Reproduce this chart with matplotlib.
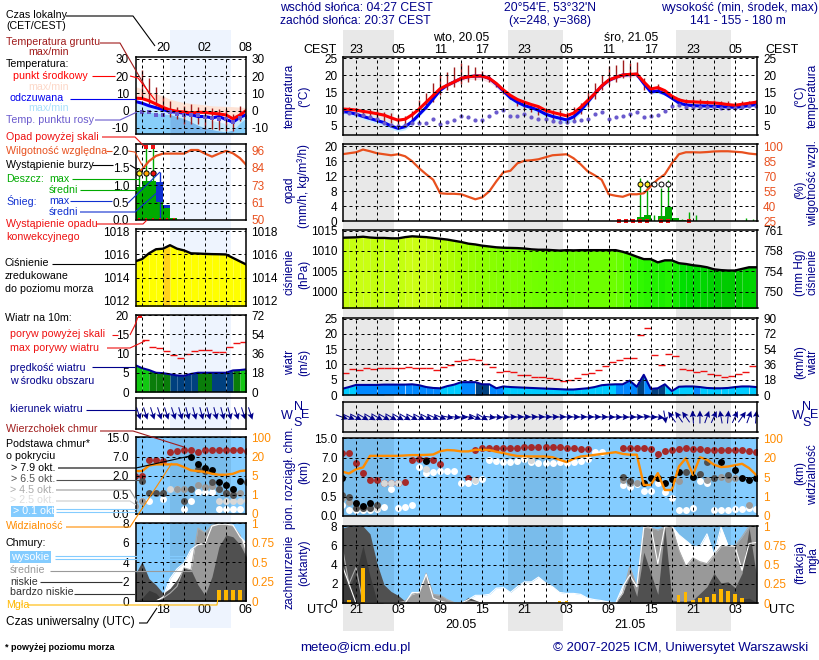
import numpy as np
import matplotlib
matplotlib.use("Agg")
import matplotlib.pyplot as plt
from matplotlib.patches import Rectangle

plt.rcParams['font.family'] = ['Liberation Sans', 'DejaVu Sans']
plt.rcParams['font.size'] = 8.6
plt.rcParams['xtick.major.size'] = 0
plt.rcParams['ytick.major.size'] = 0

W, H = 820, 660
NAVY = '#00008b'; ORANGE = '#ff8c00'; RHC = '#e8501e'; SKY = '#84ccff'; BROWN = '#a01c1c'
FOG = '#ffb800'; C_WHITE = '#ffffff'; C_LIGHT = '#d8d8d8'; C_GRAY = '#999999'; C_DARK = '#505050'; C_BLACK = '#000000'
TICK = 8.5; LEG = 7.7; AXL = 8.6; HEAD = 8.7

# ---------- main forecast, hours UTC from 20.05 00:00 ----------
t = np.arange(-5, 55)
temp_mid = [10.0,9.9,9.7,9.3,9.0, 8.6,8.2,7.4,6.7, 7.0,8.3,10.0,12.0,14.0,16.0, 17.0,18.0,19.0,19.5,19.7,19.7,19.0,
            17.5,15.6,14.0,12.8,12.0,11.3,10.7,9.6, 9.0,8.5,8.0,8.8,10.5,12.5,14.5,16.8,18.5,
            19.3,20.0,20.2,20.3,18.0,15.9,16.3,15.4,13.8,12.7,12.2, 12.1,12.0,11.9,11.8,11.6,11.3,11.1,11.4,11.7,12.0]
temp_low = [9.8,9.7,9.5,9.1,8.8, 8.4,8.0,7.2,6.5, 6.8,8.0,9.7,11.7,13.7,15.6, 16.5,17.4,18.3,18.7,18.7,18.6,17.8,
            16.3,14.5,13.0,12.0,11.4,10.8,10.3,9.4, 8.8,8.3,7.8,8.5,10.2,12.2,14.2,16.4,18.0,
            18.7,19.3,19.4,19.5,16.8,14.6,15.0,14.3,13.0,12.0,11.8, 11.8,11.7,11.6,11.5,11.3,11.1,10.9,11.2,11.5,11.8]
temp_app = [9.3,9.0,8.5,7.8,7.2, 6.6,6.0,5.0,4.3, 4.8,6.3,8.4,10.5,13.0,15.5, 17.0,18.0,19.0,19.5,19.7,19.7,19.0,
            17.3,15.3,13.3,12.0,11.0,10.4,9.6,8.5, 7.8,7.3,6.8,7.7,9.5,12.0,14.5,16.7,18.4,
            19.3,20.0,20.1,20.2,17.5,15.0,15.3,14.5,13.2,11.8,11.2, 11.0,10.9,10.9,10.8,10.7,10.6,10.5,10.7,11.0,11.3]
temp_app_low = [8.6,8.3,7.7,7.0,6.4, 5.7,5.0,4.0,3.4, 3.9,5.5,7.8,10.0,12.6,15.2, 16.7,17.7,18.6,19.0,19.0,18.8,18.0,
                16.3,14.5,12.5,11.0,10.0,9.3,8.5,7.5, 6.8,6.2,5.6,6.6,8.7,11.3,14.0,16.4,18.0,
                19.0,19.6,19.6,19.8,17.0,14.4,14.6,14.0,12.8,11.3,10.8, 10.6,10.5,10.4,10.3,10.2,10.1,10.0,10.2,10.6,11.0]
dew = [9.0,8.7,8.5,8.2,7.5, 7.0,5.8,5.2,5.0, 5.2,5.8,5.8,5.9,7.0,5.5, 6.3,6.8,8.0,7.7,6.8,6.8,7.8,
       9.0,9.6,7.8,8.0,8.4,7.5,7.2,7.0, 6.5,6.3,6.1,6.5,6.7,7.2,8.4,9.0,7.0,
       7.7,8.0,8.4,9.0,7.5,8.0,8.2,9.4,11.0,11.3,10.6, 10.6,10.5,10.5,10.5,10.4,10.4,10.4,10.6,10.8,10.9]
ground_t = np.arange(-4, 55)
ground_max = [10.7,10.3,10.0,9.9, 9.6,9.2,8.8,8.2, 7.8,9.5,12.6,14.6,17.7,20.0, 21.0,22.4,23.6,23.0,22.5,21.2,20.0,
              17.0,14.6,13.5,12.5,11.8,11.0,10.6,10.0, 9.7,9.7,9.2,10.5,11.7,15.1,17.7,20.0,22.7,
              23.0,24.3,23.5,23.8,19.0,16.5,17.5,15.1,14.0,13.3,13.0, 12.9,12.8,12.6,12.6,12.4,12.3,12.1,12.3,12.3,12.6]
ground_min = [9.0,8.6,8.0,7.5, 7.0,6.4,5.8,5.0, 5.3,6.7,8.5,10.0,12.0,14.0, 15.5,16.5,17.5,18.0,18.5,18.7,18.0,
              16.5,14.3,12.8,11.0,9.8,9.0,8.3,7.8, 6.5,5.8,5.5,6.5,8.5,10.5,13.0,15.5,17.0,
              18.0,19.0,19.2,19.3,15.5,14.5,15.0,14.0,12.8,11.5,11.0, 10.9,10.8,10.7,10.6,10.5,10.4,10.3,10.4,10.8,11.1]

humidity = [92,93,94,96.7,95, 93,92,91,92, 90,85,78,72,66.5,53, 52.5,52.5,52,49.5,47,49,55,
            65,74,75.5,83,85.5,86,87,89, 91,91.5,92,88,82,75,71,66.5,52,
            50.5,49.5,52,52,53,60,67,72,83,92,94, 94,93.8,94.2,94.8,95,95,94.5,94,92.7,92]
rain_hours = [37,38,39,40,41,42,43]
rain_mean = [1.25,1.7,0.1,1.4,3.9,0.8,0.3]
rain_max_hours = [37,38,39,40,41,42,43,44,45,52,53]
rain_max = [11.5,11.0,1.7,8.8,11.0,0.8,0.6,2.4,1.7,1.0,0.5]
conv_hours = [34,35,36,37,38,40,41,44]
storm_yellow = [37,38]
storm_open = [39,40,41]

pressure = [1013.25,1013.3,1013.35,1013.5,1013.3, 1013.2,1013.2,1013.1,1013.1, 1013.4,1013.6,1013.5,1013.4,1013.2,1013.0,
            1012.8,1012.5,1012.2,1011.8,1011.6,1011.3,1011.1, 1010.9,1010.8,1010.75,1010.7,1010.6,1010.4,1010.3,1010.3,
            1010.2,1010.1,1010.2,1010.15,1010.2,1010.2,1010.2,1010.2,1010.2, 1010.2,1009.8,1009.25,1008.6,1008.0,1008.0,
            1007.2,1007.7,1007.7,1007.0,1006.8, 1006.5,1006.3,1006.0,1005.5,1005.3,1005.2,1005.2,1005.6,1006.0,1006.0]

wind = [2.0,2.6,3.3,3.3,3.3, 3.3,3.4,3.4,3.4, 3.4,3.5,3.2,2.6,2.3,2.2, 2.9,3.4,4.2,4.2,4.2,3.5,3.5,
        2.2,2.8,2.6,2.5,2.4,2.3,2.2,2.1, 2.0,1.9,1.8,1.8,2.0,2.2,2.6,3.2,3.4,
        3.5,3.5,4.7,2.7,6.6,2.0,2.2,3.5,1.3,2.7,2.8, 2.8,2.6,2.3,2.2,2.2,2.3,2.6,2.8,2.8,2.6]
wind_class = [0,0, 1,1,1,1,1,1,1,1,1,1,1,1, 0,0,0, 1,1, 2,2, 1,1] + [0]*16 + [1,1,1, 2, 1, 2,2, 0,0,0,0, 1] + [0]*10
gust = [7.1,8.4,8.1,8.8,8.4,8.8,8.8,8.8,8.8,9.3,9.0,8.8,8.8,8.1,9.1,9.9,11.2,11.4,11.7,11.4,10.1,9.1,7.5,7.9,7.5,
        6.5,6.5,5.8,5.8,5.5,5.3,4.6,4.8,5.5,6.8,7.1,8.1,9.4,10.7,11.4,12.0,12.0,19.7,21.9,13.0,9.8,13.4,12.7,8.4,8.1,
        7.6,7.9,6.8,6.5,5.8,6.2,6.8,7.6,9.4]
heading = [-20,-25,-28,-30,-30,-30,-30,-30,-30,-30,-28,-28,-28,-25,-22,
           -12,-8,-5,-15,-25,-30,
           -8,-5,0,2,3,3,3,3,3,3,3,3,2,2,2,2,0,-2,-2,-2,0,3,8,-2,-8,
           -80,125,125,125,95,90,70,65,100,85,65,55,70,85]

visibility = [2.29,2.19,2.41,2.5,3.1, 3.1,3.1,3.1,3.1, 3.12,3.14,3.14,3.15,3.17,3.34, 3.4,3.38,3.33,3.33,3.41,3.41,3.4,
              3.31,3.24,3.16,3.09,3.08,3.07,3.07,3.07, 3.03,2.9,2.78,2.95,3.07,3.1,3.15,3.2,3.24,
              3.29,3.2,3.16,3.16,1.6,1.6,2.21,1.34,1.34,2.55,2.98, 2.12,3.03,2.9,2.64,2.52,2.55,2.62,2.69,2.47,2.12]
top_t = list(range(-5,10)) + list(range(13,31)) + list(range(35,55))
top_lv = [3.24,3.26,2.72,2.21,1.86,1.86,1.72,1.72,1.69,1.76,2.88,2.93,2.9,2.88,2.67,
          1.95,3.41,3.5,3.5,3.5,3.5,3.5,3.53,3.57,3.57,3.57,3.57,3.57,3.57,3.5,3.48,3.45,3.45,
          3.48,3.48,3.48,3.48,3.45,3.22,3.36,3.41,3.45,3.5,3.45,3.45,3.41,3.41,3.41,3.41,3.41,3.41,3.36,3.31]
white_t = list(range(-5,33)) + list(range(35,55))
white_lv = [.57,.31,.31,.31,.31,.34,.48,1.38,.43,.45,.57,2.5,2.21,2.26,2.31,2.31,2.34,1.72,1.72,1.81,1.9,2.9,2.84,2.79,2.79,
            2.84,2.93,2.79,2.74,2.74,2.74,2.79,2.74,2.79,2.84,2.93,3.28,3.28,
            1.6,1.52,1.64,1.31,1.31,1.72,1.26,.91,.31,.31,.43,1.78,1.69,.31,.31,.31,.34,.34,.4,.34]
light_t = [-3,-2,-1,0,1,2,3,7,14,22]
light_lv = [.4,.4,.4,.4,1.72,1.72,1.69,2.41,1.86,2.88]
gray_t = [-5,-4,35,36,37,43,47,49,50,51,53]
gray_lv = [.91,.74,1.86,1.69,1.69,1.81,1.86,2.0,1.9,1.98,.57]
dark_t = [-5,-4,-3,-2,-1,0,35,36,44,46,47,48,50]
dark_lv = [1.09,1.0,.4,.4,.4,.55,2.03,1.78,2.26,2.19,2.78,1.98,2.12]
black_t = [-5,-3,-2,-1,7,38,39,40,41,42,43,45,49,51,52,53,54]
black_lv = [1.95,.66,.52,.66,2.84,1.69,1.98,1.98,1.69,1.9,2.29,2.0,2.78,2.38,1.98,1.86,1.98]

cl_high = [4,2,0,0,0, 0,0,0,0, 0,1.1,1.1,3,.5,.2, 0,0,0,.35,.8,.8,.9,
           1.55,1.6,1.1,1.7,2.2,2.2,2.7,2.1, 1.7,1.1,1.0,1.0,.9,.5,.35,.25,.1,
           0,1.7,2.9,1.7,7.9,8,4.1,8,8,7.1,6.5, 5.9,5.9,7.2,5,7.9,6,5.9,3.4,6.2,6.3]
cl_mid = [6,2,3.7,0,0, 0,0,0,0, .2,.9,1.1,3.1,.9,.8, .35,.05,0,.2,.1,0,0,
          0,0,0,0,0,0,0,0, 0,0,0,0,0,0,0,0,0,
          0,1,3.8,1.7,7.9,7.8,7.6,7.9,8,5.5,3.8, 4.7,4.3,4.1,5,5.9,5.9,6,6.9,8,8]
cl_low = [7.8,8,8,8,7.2, 4.1,1.9,1.2,.8, .2,.1,.1,.1,.1,0, 0,0,.05,.6,.3,0,0,
          0,0,0,0,0,0,0,0, 0,0,0,0,0,0,0,0,0,
          0,1,2.8,.7,5.3,3.1,.9,7.9,.3,.2,.2, .3,1,1.7,3.1,2.1,2.2,1.6,3.1,7.8,3.1]
cl_vlow = [3.4,1.5,3.1,6,2.8, .2,0,0,0, 0,0,0,0,0,0, 0,0,0,0,0,0,0,
           0,0,0,0,0,0,0,0, 0,0,0,0,0,0,0,0,0,
           0,0,0,0,0,0,0,0,0,0,0, 0,0,0,0,0,0,0,.4,.5,.1]
fog_t = [-4,-2,26,27,43,44,45,46,47,48,49,50,51,52]
fog = [.04,.45,.02,.02,.11,.14,.04,.06,.08,.12,.18,.16,.12,.06]

# ---------- previous-run panel (left), hours UTC from 19.05 00:00 ----------
h = np.arange(14, 31)
l_temp_mid = [7.2,7,5.7,3.8,1.9,.4,-.4,-.8,-1.3,-1,-1,-1.5,-1.9,-2.5,-4.7,-2.5,.4]
l_temp_app = [5.3,4.3,2.8,1.7,.6,-.6,-.9,-1.5,-2.3,-3.4,-3.4,-4.2,-3.4,-5.1,-6.6,-3.8,-2.2]
l_temp_max = [14,12.5,11,9.7,8.5,6.6,5.5,4.7,4.2,3.8,3.3,2.8,2.6,2.5,2.3,2,1.9]
l_app_hi = [4.5,3.5,2.5,1.5,1.3,.5,-.5,-1.9,-2.8,-3.8,-4.7,-5.7,-6.6,-7.5,-6.5,-4,-1.9]
l_app_lo = [0,-.4,-.9,-1.4,-1.9,-2.3,-3.5,-4.7,-6.5,-8.5,-10,-11,-11.8,-12.3,-11.3,-7,-3.8]
l_dew = [-1,-.9,-.9,-2.3,-2.3,-.9,-1.9,-2.3,-2.8,-2.5,-3.8,-4.3,-5.1,-5.1,-6.5,-4,-3.5]
l_ground_h = np.arange(15, 30)
l_ground_max = [23.6,18.9,13.8,8.5,5.7,1.9,2.8,3.8,1.9,1.9,1.3,.9,.9,-1.9,2.8]
l_ground_min = [6.6,3.8,2.8,1,-3.8,-4.7,-7.5,-7.5,-8,-10.4,-10.4,-11.3,-12,-12,-5.7]
l_humidity = [80,83.5,89,92.5,94,94,94,94,96.4,96.4,94,92,94,95.8,94.2,91,86]
l_rain_h = [14,15,16,17,18,19]
l_rain = [.94,1.12,1.12,.53,.34,.07]
l_snow_h = [17,18]
l_snow = [1.1,.43]
l_rain_max_h = [14.5,15.5,16.5]
l_rain_max = [1.5,2.1,2.1]
l_snow_max_h = [17.5]
l_snow_max = [1.39]
l_pressure = [1015.4,1015.6,1016.1,1016.45,1016.5,1016.8,1016.5,1016.35,1016.1,1016.08,1016.05,1016.03,1016.02,1016.0,1015.7,1015.4,1015.1]
l_wind = [7,6.2,5.7,5,4.9,4.6,4.3,4.2,4.7,5,5,5,5,5,5.6,5.7,5.9]
l_wind_class = [4,4,3,3,3,2,2,2,2,3,3,2,2,2,3,4]
l_gust_h = np.arange(15, 30)
l_gust = [13.5,11.7,11.4,10.6,9.6,8.8,9.8,10.7,10.9,10.9,10.5,10.5,11.6,12.8,13]
l_heading = [-72,-72,-72,-72,-72,-72,-74,-75,-75,-75,-75,-75,-75,-75,-72,-72,-72]
l_vis = [2.24,2.24,2.53,2.59,2.59,2.59,2.59,2.45,2.28,2.24,2.2,2.1,2.05,2.05,2.1,2.24,2.28]
l_top = [2,2,2.84,2.84,2.79,3.22,3.31,3.34,3.34,3.22,3.34,3.34,3.34,3.34,3.34,3.34,3.31]
l_black_h = [22,23,24,25,26,27,28,29]
l_black = [3,2.59,2.4,2.28,1.67,1.5,1.28,1.71]
l_dark_h = [15,16,17,18,21,22,23,24,25,26,27,28,30]
l_dark = [1.71,1.12,1.12,1.12,.69,1.28,2.36,2.24,1.67,1.28,1.12,.98,1.67]
l_gray_h = [14,15,18,20,21,23,24,25,26,27,28,29]
l_gray = [.41,.69,1.12,1.28,1.28,1.5,1.41,1.45,1.28,1.12,1.1,1.1]
l_light_h = [14,19,20,26,27,28,29,30]
l_light = [.41,1.28,1.28,.69,.69,.69,.69,.72]
l_white_h = [15,16,18,21,22,23,24,25,26,27,28,29]
l_white = [.69,.69,.76,.24,.69,1.16,1.16,1.16,.24,.24,.24,.24]
l_high = [0,0,0,0,.4,2.3,3.3,3.9,5.3,5.8,5.9,7.7,7.9,7.9,7.8,6.6,5.9]
l_mid = [0,0,0,0,.3,.8,1.5,3.4,3.2,7.5,7,7.8,7.9,7.9,7.7,6.8,4.4]
l_low = [2.7,4.05,2.3,1.65,.8,1.3,2.2,3.4,3.2,1.65,.6,2.5,5.6,6.8,6.6,5.8,4.4]
l_vlow = [0,.3,1.1,.8,0,0,0,0,0,0,0,0,0,0,0,0,0]
l_fog_h = [26,27,28,29]
l_fog = [.14,.14,.14,.14]

fig = plt.figure(figsize=(W/100, H/100), dpi=100, facecolor='white')

def box(l, top, r, bot, **kw):
    return fig.add_axes([l/W, 1-bot/H, (r-l)/W, (bot-top)/H], **kw)

RX = (-4.85, 54.2)
LX = (14.14, 29.79)
NIGHT_R = [(-5, 2.45), (18.62, 26.45), (42.62, 50.45)]
NIGHT_L = [(19.0, 27.67)]

bgr = box(343, 30, 757.5, 631, zorder=-5); bgr.set_xlim(*RX); bgr.axis('off')
for a, b in NIGHT_R:
    bgr.axvspan(a, b, color='#e8e8e8', lw=0)
bgl = box(136, 30, 245.5, 628, zorder=-5); bgl.set_xlim(*LX); bgl.axis('off')
for a, b in NIGHT_L:
    bgl.axvspan(a, b, color='#eef4fe', lw=0)

def panel(b, xlim, ylim, yt, ytl, yt2, ytl2, col2='black', vt=None, side='R', ygrid=None):
    ax = box(*b, facecolor='none', zorder=2)
    ax.set_xlim(*xlim); ax.set_ylim(*ylim)
    ax.set_yticks(yt); ax.set_yticklabels(ytl)
    ax.set_xticks([])
    ax.tick_params(axis='y', pad=4 if side == 'R' else 5, labelsize=TICK)
    for s in ax.spines.values():
        s.set_linewidth(1.1); s.set_zorder(20)
    for x in vt:
        ax.axvline(x, color='k', lw=0.72, ls=(0, (3, 3)), zorder=10)
    for y in (yt if ygrid is None else ygrid):
        ax.axhline(y, color='k', lw=0.72, ls=(0, (3, 3)), zorder=10)
    tw = ax.twinx()
    tw.set_ylim(*ylim)
    tw.set_yticks(yt2); tw.set_yticklabels(ytl2, color=col2)
    tw.tick_params(axis='y', pad=4, labelsize=TICK)
    tw.patch.set_visible(False)
    for s in tw.spines.values():
        s.set_visible(False)
    return ax

VR = np.arange(-3, 54, 3)
VL = np.arange(15, 30, 3)

def night(ax, spans, c=(0, 0, 0, .08)):
    for a, b in spans:
        ax.axvspan(a, b, color=c, lw=0, zorder=4)

def rgb_interp(v, xs, cols):
    arr = np.array([matplotlib.colors.to_rgb(c) for c in cols])
    return tuple(np.interp(v, xs, arr[:, i]) for i in range(3))

# ---------- temperature ----------
ax = panel((343, 57, 757.5, 135), RX, (2.35, 25.3), [5,10,15,20,25], ['5','10','15','20','25'],
           [5,10,15,20,25], ['5','10','15','20','25'], vt=VR)
ax.fill_between(t, temp_app_low, temp_app, color='#c9ecff', lw=0, zorder=1)
ax.fill_between(t, temp_low, temp_mid, color='#fbdfe6', lw=0, zorder=1)
ax.vlines(ground_t, ground_min, ground_max, color=BROWN, lw=1, zorder=3)
ax.plot(t, temp_app, color='#0000ee', lw=2.2, zorder=5)
ax.plot(t, temp_mid, color='#ff0000', lw=2.2, zorder=6)
ax.plot(t, dew, ls='none', marker='o', ms=3, color='#6a5acd', mew=0, zorder=7)
ax.set_xticks(np.arange(-3, 54, 6)); ax.xaxis.tick_top()
ax.set_xticklabels(['23','05','11','17','23','05','11','17','23','05'])
ax.tick_params(axis='x', pad=1, labelsize=9)

axl = panel((136, 57, 245.5, 134), LX, (-13.5, 31), [-10,0,10,20,30], ['-10','0','10','20','30'],
            [-10,0,10,20,30], ['-10','0','10','20','30'], vt=VL, side='L')
axl.fill_between(h, l_temp_mid, l_temp_max, color='#fde3d6', lw=0, zorder=1)
axl.fill_between(h, l_app_lo, l_app_hi, color='#c5e9fc', lw=0, zorder=1)
axl.fill_between(h, -13.5, l_app_lo, color='#87cefa', lw=0, zorder=1.1)
band = (h >= 19) & (h <= 28)
axl.fill_between(h[band], -13.5, np.array(l_app_lo)[band], color='#79b6ea', lw=0, zorder=1.2)
axl.vlines(l_ground_h, l_ground_min, l_ground_max, color=BROWN, lw=1, zorder=5)
axl.plot(h, l_temp_app, color='#0000ee', lw=2.2, zorder=6)
axl.plot(h, l_temp_mid, color='#ff0000', lw=2.2, zorder=7)
axl.plot(h, l_dew, ls='none', marker='s', ms=3, color='#6a5acd', mew=0, zorder=8)
axl.set_xticks([18, 24, 29.79]); axl.xaxis.tick_top()
axl.set_xticklabels(['20', '02', '08'])
axl.tick_params(axis='x', pad=2, labelsize=9)

# ---------- precipitation / humidity ----------
ax = panel((343, 144, 757.5, 221.3), RX, (0, 20.6), [0,4,8,12,16,20], ['0','4','8','12','16','20'],
           np.linspace(0, 20, 6), ['25','40','55','70','85','100'], col2=RHC, vt=VR)
ax.bar(np.array(rain_hours)+.5, rain_mean, width=1, color='#00aa00', lw=0, zorder=3)
ax.vlines(np.array(rain_max_hours)+.5, 0, rain_max, color='#00aa00', lw=1, zorder=3)
ax.plot(t, (np.array(humidity)-25)/75*20, color=RHC, lw=1.6, zorder=5)
ax.plot(np.array(conv_hours)+.5, np.full(len(conv_hours), 0.1), ls='none', marker='s', ms=3.2, color='#ee1111', mew=0, zorder=12, clip_on=False)
ax.plot(np.array(storm_yellow)+.5, np.full(2, 10), ls='none', marker='o', ms=3.6, mfc='#ffee22', mec='k', mew=.7, zorder=12)
ax.plot(np.array(storm_open)+.5, np.full(3, 10), ls='none', marker='o', ms=3.6, mfc='white', mec='k', mew=.7, zorder=12)

axl = panel((136, 144, 245.5, 220), LX, (0, 2.19), [0,.5,1,1.5,2], ['0.0','0.5','1.0','1.5','2.0'],
            [0,.5,1,1.5,2], ['50','61','73','84','96'], col2=RHC, vt=VL, side='L')
axl.bar(np.array(l_snow_h)+.5, l_snow, width=1, color='#1030d0', lw=0, zorder=2)
axl.bar(np.array(l_rain_h)+.5, l_rain, width=1, color='#00aa00', lw=0, zorder=3)
axl.vlines(l_rain_max_h, 0, l_rain_max, color='#00aa00', lw=1, zorder=3)
axl.vlines(l_snow_max_h, 0, l_snow_max, color='#1030d0', lw=1, zorder=3)
axl.plot(h, (np.array(l_humidity)-50)/46*2, color=RHC, lw=1.6, zorder=5)
axl.plot(l_rain_max_h[1:], [2.1, 2.1], ls='none', marker='s', ms=3.2, color='#ee1111', mew=0, zorder=12)
for xx, cc in zip(l_rain_max_h, ['#ffee22', '#ffa500', '#ee1111']):
    axl.plot([xx], [1.35], ls='none', marker='o', ms=3.8, mfc=cc, mec='k', mew=.7, zorder=12)
axl.plot(np.arange(14.5, 20.5), np.full(6, 0.03), ls='none', marker='s', ms=1.6, color='#ee1111', mew=0, zorder=12)

# ---------- pressure ----------
PV = [1005, 1007, 1007.5, 1009, 1010, 1011, 1012.5, 1013.5]
PC = ['#00c800', '#00e000', '#20f000', '#40ff00', '#66ff00', '#88ff00', '#aaff00', '#ccff14']
ax = panel((343, 230, 757.5, 308), RX, (996.0, 1015.15), [1000,1005,1010,1015], ['1000','1005','1010','1015'],
           [1000,1005,1010,1015], ['750','754','758','761'], vt=VR)
p = np.array(pressure)
for i in range(len(t)-1):
    mean_p = (p[i]+p[i+1])/2
    ax.fill_between(t[i:i+2], 990, p[i:i+2], color=rgb_interp(mean_p, PV, PC), lw=0, zorder=1)
ax.plot(t, p, color='k', lw=1.7, zorder=6)

axl = panel((136, 229, 245.5, 306), LX, (1011.55, 1018.2), [1012,1014,1016,1018], ['1012','1014','1016','1018'],
            [1012,1014,1016,1018], ['1012','1014','1016','1018'], vt=VL, side='L')
lp = np.array(l_pressure)
for i in range(len(h)-1):
    axl.fill_between(h[i:i+2], 1000, lp[i:i+2], color='#ffd21a' if i == 4 else '#ffff00', lw=0, zorder=1)
axl.plot(h, lp, color='k', lw=1.7, zorder=6)

# ---------- wind ----------
WC = ['#00ccff', '#0088ff', '#00407f', '#0a7d0a', '#12c812']
ax = panel((343, 318, 757.5, 395), RX, (0, 25.2), [0,5,10,15,20,25], ['0','5','10','15','20','25'],
           np.linspace(0, 25, 6), ['0','18','36','54','72','90'], vt=VR)
for i in range(len(t)-1):
    ax.fill_between(t[i:i+2], 0, wind[i:i+2], color=WC[wind_class[i]], lw=0, zorder=1)
ax.plot(t, wind, color='#00009c', lw=1.5, zorder=6)
ax.hlines(gust, t[:-1], t[1:], color='#ee1111', lw=1, zorder=7)

axl = panel((136, 315, 245.5, 392), LX, (0, 20), [0,5,10,15,20], ['0','5','10','15','20'],
            np.linspace(0, 20, 5), ['0','18','36','54','72'], vt=VL, side='L')
for i in range(len(h)-1):
    axl.fill_between(h[i:i+2], 0, l_wind[i:i+2], color=WC[l_wind_class[i]], lw=0, zorder=1)
axl.plot(h, l_wind, color='#00009c', lw=1.5, zorder=6)
axl.hlines(l_gust, l_gust_h, l_gust_h+1, color='#ee1111', lw=1, zorder=7)
axl.plot([14.7], [19.7], ls='none', marker='s', ms=3, color='#ee1111', mew=0, zorder=12)

# ---------- wind direction ----------
ARROW_PX = 13
def wind_arrows(b, xlim, xs, heads, vt):
    a = box(*b, facecolor='none', zorder=2)
    a.set_xlim(*xlim); a.set_ylim(0, 1); a.set_xticks([]); a.set_yticks([])
    for s in a.spines.values():
        s.set_linewidth(1.1); s.set_zorder(20)
    for x in vt:
        a.axvline(x, color='k', lw=0.72, ls=(0, (3, 3)), zorder=3)
    rad = np.deg2rad(heads)
    a.quiver(xs, np.full(len(xs), .5), ARROW_PX*np.cos(rad), ARROW_PX*np.sin(rad), angles='uv', scale_units='dots', scale=1,
             units='dots', width=1.0, headwidth=6.5, headlength=6.5, headaxislength=5.5, pivot='mid', color='#00008b', zorder=6, clip_on=False)
    return a
wind_arrows((343, 402, 757.5, 432), RX, t, np.array(heading, float), VR)
wind_arrows((136, 398, 245.5, 429), LX, h+.5, np.array(l_heading, float), VL)

# ---------- cloud base / visibility ----------
LV = [0, 1, 2, 3, 4]
def base_panel(b, xlim, vt, spans, side):
    a = panel(b, xlim, (0, 4.02), LV, ['0.0','0.5','2.0','7.0','15.0'], LV, ['0','1','5','20','100'], col2=ORANGE, vt=vt, side=side)
    a.axhspan(0, 5, color=SKY, lw=0, zorder=0)
    night(a, spans)
    return a
def dots(a, xs, ys, c):
    a.plot(xs, ys, ls='none', marker='o', ms=5, color=c, mew=0, zorder=5)

ax = base_panel((343, 438, 757.5, 516), RX, VR, NIGHT_R, 'R')
dots(ax, top_t, top_lv, '#a52a2a')
dots(ax, white_t, white_lv, C_WHITE)
dots(ax, light_t, light_lv, C_LIGHT)
dots(ax, gray_t, gray_lv, C_GRAY)
dots(ax, dark_t, dark_lv, C_DARK)
dots(ax, black_t, black_lv, C_BLACK)
ax.plot(t, visibility, color=ORANGE, lw=1.7, zorder=8)

axl = base_panel((136, 437, 245.5, 514), LX, VL, NIGHT_L, 'L')
dots(axl, h, l_top, '#a52a2a')
dots(axl, l_white_h, l_white, C_WHITE)
dots(axl, l_light_h, l_light, C_LIGHT)
dots(axl, l_gray_h, l_gray, C_GRAY)
dots(axl, l_dark_h, l_dark, C_DARK)
dots(axl, l_black_h, l_black, C_BLACK)
axl.plot(h, l_vis, color=ORANGE, lw=1.7, zorder=8)

# ---------- cloud cover / fog ----------
def cover_panel(b, xlim, vt, spans, side, xs, high, mid, low, vlow, fx, fv):
    a = panel(b, xlim, (0, 8.02), [0,2,4,6,8], ['0','2','4','6','8'], [0,2,4,6,8], ['0','0.25','0.5','0.75','1'],
              col2=ORANGE, vt=vt, side=side)
    a.axhspan(0, 9, color=SKY, lw=0, zorder=0)
    night(a, spans)
    a.fill_between(xs, 0, high, color='white', lw=0, zorder=5)
    a.fill_between(xs, 0, mid, color='#999999', lw=0, zorder=5.1)
    a.fill_between(xs, 0, low, color='#505050', lw=0, zorder=5.2)
    a.fill_between(xs, 0, vlow, color='#3a3a3a', lw=0, zorder=5.3)
    a.plot(xs, high, color='white', lw=.8, zorder=5.5)
    a.plot(xs, mid, color='#aaaaaa', lw=.8, zorder=5.4)
    a.bar(fx, np.array(fv)*8, width=.45, color=FOG, lw=0, zorder=12)
    return a
ax = cover_panel((343, 526, 757.5, 603), RX, VR, NIGHT_R, 'R', t, cl_high, cl_mid, cl_low, cl_vlow, fog_t, fog)
ax.set_xticks(np.arange(-3, 54, 6))
ax.set_xticklabels(['21','03','09','15','21','03','09','15','21','03'])
ax.tick_params(axis='x', pad=1, labelsize=9)

axl = cover_panel((136, 523, 245.5, 601), LX, VL, NIGHT_L, 'L', h, l_high, l_mid, l_low, l_vlow, l_fog_h, l_fog)
axl.set_xticks([18, 24, 29.79]); axl.set_xticklabels(['18', '00', '06'])
axl.tick_params(axis='x', pad=2, labelsize=9)

# ---------- overlay in figure pixels: captions and leader lines ----------
ov = fig.add_axes([0, 0, 1, 1], facecolor='none', zorder=30)
ov.set_xlim(0, W); ov.set_ylim(H, 0); ov.axis('off')

def T(x, y, s, c='black', ha='left', rot=0, size=LEG, **kw):
    ov.text(x, y, s, color=c, ha=ha, va='center', rotation=rot, fontsize=size, **kw)
def L(pts, c='black', lw=.8):
    pts = np.array(pts)
    ov.plot(pts[:, 0], pts[:, 1], color=c, lw=lw, solid_capstyle='butt', clip_on=False, zorder=5)

T(280, 8, 'wschód słońca: 04:27 CEST', NAVY, size=HEAD); T(280, 21, 'zachód słońca: 20:37 CEST', NAVY, size=HEAD)
T(550, 8, "20°54'E, 53°32'N", NAVY, ha='center', size=HEAD); T(550, 21, '(x=248, y=368)', NAVY, ha='center', size=HEAD)
T(818, 8, 'wysokość (min, środek, max)', NAVY, ha='right', size=HEAD); T(738, 21, '141 - 155 - 180 m', NAVY, ha='center', size=HEAD)
T(461, 37, 'wto, 20.05', ha='center', size=HEAD); T(631, 37, 'śro, 21.05', ha='center', size=HEAD)
T(303, 50, 'CEST', size=9); T(765, 50, 'CEST', size=9)
T(307, 610, 'UTC', size=9); T(769, 610, 'UTC', size=9)
T(461, 625, '20.05', ha='center', size=9); T(630, 625, '21.05', ha='center', size=9)

LEFT1, LEFT2 = 290, 304
RIGHT1, RIGHT2 = 800, 813
for x, y, s in [(LEFT1, 96, 'temperatura'), (LEFT2, 96, '(°C)'), (LEFT1, 190, 'opad'), (LEFT2, 186, '(mm/h, kg/m³/h)'),
                (LEFT1, 272, 'ciśnienie'), (LEFT2, 274, '(hPa)'), (LEFT1, 362, 'wiatr'), (LEFT2, 362, '(m/s)'),
                (LEFT1, 478, 'pion. rozciągł. chm.'), (LEFT2, 472, '(km)'), (LEFT1, 572, 'zachmurzenie'), (LEFT2, 563, '(oktanty)'),
                (RIGHT1, 96, '(°C)'), (RIGHT2, 96, 'temperatura'), (RIGHT1, 190, '(%)'), (RIGHT2, 183, 'wilgotność wzgl.'),
                (RIGHT1, 273, '(mm Hg)'), (RIGHT2, 272, 'ciśnienie'), (RIGHT1, 362, '(km/h)'), (RIGHT2, 362, 'wiatr'),
                (RIGHT1, 473, '(km)'), (RIGHT2, 475, 'widzialność'), (RIGHT1, 563, '(frakcja)'), (RIGHT2, 560, 'mgła')]:
    T(x, y, s, NAVY, ha='center', rot=90, size=AXL)
for x, y, s in [(287, 416, 'W'), (299, 407, 'N'), (298, 423, 'S'), (305, 415, 'E'),
                (798, 416, 'W'), (807, 407, 'N'), (807, 423, 'S'), (814, 415, 'E')]:
    T(x, y, s, NAVY, ha='center', size=9)

T(6, 15, 'Czas lokalny'); T(6, 26, '(CET/CEST)')
L([(66, 16), (133, 16), (155, 46)])
T(6, 42, 'Temperatura gruntu', BROWN); T(28, 52, 'max/min', BROWN)
L([(100, 43), (120, 43), (150, 95)], BROWN)
T(6, 64, 'Temperatura:')
T(13, 76, 'punkt środkowy', '#ff0000'); L([(92, 76), (115, 76)], '#ff0000'); L([(130, 76), (138, 78), (155, 100)], '#ff0000')
T(28, 87, 'max/min', '#fdd8c8')
T(10, 98, 'odczuwana', '#0000ee'); L([(70, 99), (136, 99)], '#0000ee')
T(28, 108, 'max/min', '#a8e0fb')
T(6, 120, 'Temp. punktu rosy', '#6a5acd'); L([(95, 120), (120, 120), (137, 112)], '#6a5acd')
T(6, 137, 'Opad powyżej skali', '#ee1111'); L([(102, 137), (135, 137), (145, 147)], '#ee1111')
T(6, 151, 'Wilgotność względna', RHC); L([(106, 151), (112, 151)], RHC); L([(128, 151), (135, 152), (142, 165)], RHC)
T(6, 165, 'Wystąpienie burzy'); L([(92, 165), (113, 165)]); L([(130, 165), (138, 170)])
T(6, 179, 'Deszcz:', '#00aa00'); T(49, 179, 'max', '#00aa00'); L([(72, 179), (139, 179)], '#00aa00')
T(49, 190, 'średni', '#00aa00'); L([(80, 190), (150, 190)], '#00aa00')
T(6, 201, 'Śnieg:', '#1030d0'); T(49, 201, 'max', '#1030d0'); L([(70, 201), (112, 201)], '#1030d0'); L([(128, 203), (160, 172)], '#1030d0')
T(49, 212, 'średni', '#1030d0'); L([(80, 212), (135, 212), (160, 190)], '#1030d0')
T(6, 224, 'Wystąpienie opadu', '#ee1111'); L([(96, 224), (143, 224), (147, 220)], '#ee1111'); T(6, 237, 'konwekcyjnego', '#ee1111')
T(5, 263, 'Ciśnienie'); L([(52, 264), (135, 264)]); T(5, 276, 'zredukowane'); T(5, 289, 'do poziomu morza')
T(5, 318, 'Wiatr na 10m:')
T(10, 334, 'poryw powyżej skali', '#ee1111'); L([(112, 335), (118, 335)], '#ee1111'); L([(130, 335), (135, 325), (138, 317)], '#ee1111')
T(10, 348, 'max porywy wiatru', '#ee1111'); L([(107, 348), (130, 348), (145, 341)], '#ee1111')
T(10, 368, 'prędkość wiatru', NAVY); L([(92, 367), (135, 367)], NAVY); T(10, 381, 'w środku obszaru', NAVY)
T(10, 409, 'kierunek wiatru', NAVY); L([(86, 410), (136, 410)], NAVY)
T(6, 429, 'Wierzchołek chmur', BROWN); L([(100, 431), (133, 431), (184, 447)], BROWN)
T(6, 444, 'Podstawa chmur*'); T(6, 456, 'o pokryciu')
T(11, 468, '> 7.9 okt.'); L([(58, 468), (136, 468), (190, 456)])
T(11, 479, '> 6.5 okt.', C_DARK); L([(56, 480), (143, 480)], C_DARK)
T(10, 490, '> 4.5 okt.', '#aaaaaa'); L([(56, 490), (130, 490), (138, 503)], '#999999')
T(10, 500, '> 2.5 okt.', '#dddddd'); L([(56, 501), (130, 501), (136, 505)], '#cccccc')
ov.add_patch(Rectangle((11, 506), 43, 11, color=SKY, lw=0, zorder=1))
T(13, 511, '> 0.1 okt.', 'white'); L([(56, 509), (136, 509)], SKY); L([(56, 512), (136, 512)], SKY)
T(6, 526, 'Widzialność', ORANGE); L([(66, 527), (130, 527), (172, 463)], ORANGE)
T(6, 543, 'Chmury:')
ov.add_patch(Rectangle((10, 551), 41, 12, color=SKY, lw=0, zorder=1))
T(11, 557, 'wysokie', 'white'); L([(55, 556), (185, 556)], SKY); L([(55, 559), (185, 559)], SKY)
T(10, 570, 'średnie', '#999999'); L([(50, 571), (192, 571)], '#999999')
T(10, 582, 'niskie', '#333333'); L([(40, 582), (122, 582)], '#333333')
T(10, 592, 'bardzo niskie', '#333333'); L([(74, 594), (135, 594)], '#333333')
T(6, 605, 'Mgła', FOG); L([(28, 605), (217, 605), (219, 590)], FOG)
T(6, 622, 'Czas uniwersalny (UTC)', size=8.6); L([(139, 623), (147, 623), (157, 608)])
T(5, 648, '* powyżej poziomu morza', size=6.5, fontweight='bold')
T(300, 648, 'meteo@icm.edu.pl', NAVY, size=9.5)
T(553, 648, '© 2007-2025 ICM, Uniwersytet Warszawski', NAVY, size=9.5)

fig.savefig('out.png', dpi=100, facecolor='white')
